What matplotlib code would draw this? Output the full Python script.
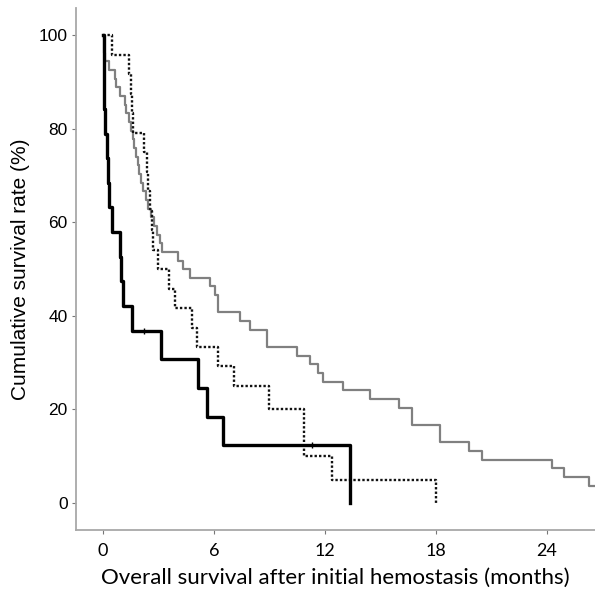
import matplotlib
matplotlib.use("Agg")
import matplotlib.pyplot as plt

# survival step data (months, %)
black_t = [0, 0.02, 0.04, 0.07, 0.10, 0.20, 0.25, 0.30, 0.47, 0.92, 0.98, 1.10, 1.55, 3.14, 5.12, 5.60, 6.47, 13.35]
black_s = [100, 94.7, 89.5, 84.2, 78.9, 73.7, 68.4, 63.2, 57.9, 52.6, 47.4, 42.1, 36.8, 30.7, 24.5, 18.4, 12.3, 0]
black_cens_t = [2.2, 11.3]
black_cens_s = [36.8, 12.3]

dot_t = [0, 0.47, 1.42, 1.50, 1.55, 1.64, 2.22, 2.35, 2.45, 2.55, 2.62, 2.68, 2.99, 3.58, 3.90, 4.80, 5.10,
         6.23, 7.08, 8.99, 10.88, 12.36, 18.0]
dot_s = [100, 95.8, 91.7, 87.5, 83.3, 79.2, 75.0, 70.8, 66.7, 62.5, 58.3, 54.2, 50.0, 45.8, 41.7, 37.5, 33.3,
         29.2, 25.0, 20.0, 10.0, 5.0, 0]

gray_t = [0, 0.03, 0.06, 0.12, 0.29, 0.65, 0.70, 0.92, 1.19, 1.25, 1.40, 1.50, 1.60, 1.68, 1.78, 1.86, 1.96,
          2.05, 2.15, 2.30, 2.45, 2.60, 2.75, 2.90, 3.05, 3.17, 4.07, 4.34, 4.70, 5.80, 6.05, 6.23, 7.40,
          7.95, 8.85, 10.47, 11.19, 11.64, 11.91, 12.99, 14.43, 16.0, 16.7, 18.2, 19.8, 20.5, 24.3, 24.9, 26.3, 27.5]
gray_n = [54, 53, 52, 51, 50, 49, 48, 47, 46, 45, 44, 43, 42, 41, 40, 39, 38,
          37, 36, 35, 34, 33, 32, 31, 30, 29, 28, 27, 26, 25, 24, 22, 21,
          20, 18, 17, 16, 15, 14, 13, 12, 11, 9, 7, 6, 5, 4, 3, 2, 2]
gray_s = [n / 54 * 100 for n in gray_n]

xticks = [0, 6, 12, 18, 24]
yticks = [0, 20, 40, 60, 80, 100]

fig = plt.figure(figsize=(5.95, 5.89), dpi=100)
ax = fig.add_axes([0.128, 0.100, 0.872, 0.886])

ax.step(gray_t, gray_s, where='post', color='#808080', lw=1.6)
ax.step(dot_t, dot_s, where='post', color='#111111', lw=1.7, linestyle=(0, (1, 0.9)))
ax.step(black_t, black_s, where='post', color='black', lw=2.4)
ax.plot(black_cens_t, black_cens_s, ls='none', marker='|', ms=5, mew=1, color='black')

ax.set_xlim(-1.46, 26.6)
ax.set_ylim(-5.8, 105.8)

for s in ['top', 'right']:
    ax.spines[s].set_visible(False)
for s in ['left', 'bottom']:
    ax.spines[s].set_color('#a8a8a8')
    ax.spines[s].set_linewidth(1.3)

ax.set_yticks(yticks)
ax.set_yticklabels([str(v) for v in yticks], fontsize=12.5, family='Liberation Sans')
ax.set_xticks(xticks)
ax.set_xticklabels([str(v) for v in xticks], fontsize=13, family='Lato')
ax.tick_params(axis='both', length=3, width=0.8, color='#777777', pad=3)
ax.tick_params(axis='x', pad=6)

ax.set_ylabel('Cumulative survival rate (%)', fontsize=15, family='Liberation Sans', labelpad=6)
ax.set_xlabel('Overall survival after initial hemostasis (months)', fontsize=16, family='Lato', labelpad=7)

fig.savefig('out.png', dpi=100)
